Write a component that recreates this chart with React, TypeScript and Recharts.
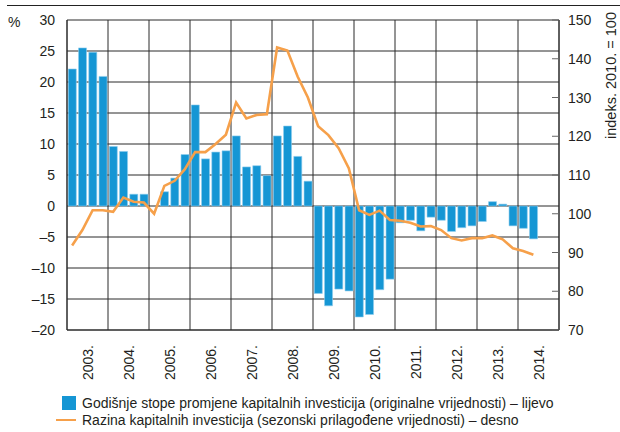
import React from 'react';
import {
  ComposedChart,
  Bar,
  Line,
  XAxis,
  YAxis,
  CartesianGrid
} from 'recharts';

const years = ['2003.', '2004.', '2005.', '2006.', '2007.', '2008.', '2009.', '2010.', '2011.', '2012.', '2013.', '2014.'];
const quarterNames = ['Q1', 'Q2', 'Q3', 'Q4'];

// annual rate of change of capital investment, % (left axis)
const growth: (number | null)[] = [
  22.1, 25.5, 24.8, 20.9,
  9.6, 8.8, 1.9, 1.9,
  0, 2.3, 4.5, 8.3,
  16.3, 7.6, 8.7, 8.9,
  11.3, 6.3, 6.5, 4.9,
  11.3, 12.9, 8.0, 4.0,
  -14.1, -16.1, -13.4, -13.7,
  -17.9, -17.5, -13.5, -11.8,
  -2.7, -2.3, -4.0, -1.8,
  -2.3, -4.1, -3.5, -3.2,
  -2.5, 0.7, 0.3, -3.2,
  -3.6, -5.3, null, null
];

// seasonally adjusted level, index 2010 = 100 (right axis)
const level: (number | null)[] = [
  91.8, 95.8, 100.9, 100.9,
  100.5, 104.2, 103.1, 102.9,
  100.0, 107.2, 108.5, 111.5,
  115.9, 115.9, 118.0, 120.4,
  128.7, 124.6, 125.5, 125.7,
  142.9, 142.1, 135.4, 130.0,
  122.6, 120.3, 116.9, 111.7,
  100.9, 99.7, 100.8, 98.4,
  98.2, 97.7, 96.7, 96.8,
  95.8, 93.7, 93.1, 93.7,
  93.7, 94.4, 93.4, 91.1,
  90.4, 89.4, null, null
];

const leftTicks = [-20, -15, -10, -5, 0, 5, 10, 15, 20, 25, 30];
const rightTicks = [70, 80, 90, 100, 110, 120, 130, 140, 150];

const barLabel = 'Godišnje stope promjene kapitalnih investicija (originalne vrijednosti) – lijevo';
const lineLabel = 'Razina kapitalnih investicija (sezonski prilagođene vrijednosti) – desno';

const categories = years.flatMap((y) => quarterNames.map((q) => `${y} ${q}`));
const data = categories.map((q, i) => ({ q, growth: growth[i], level: level[i] }));
// year labels sit between Q2 and Q3
const yearTicks = years.map((y) => `${y} Q3`);

const FONT = '"Liberation Sans", Arial, sans-serif';
const TEXT = '#231f20';
const GRID = '#2b2b2b';
const BLUE = '#1596d4';
const ORANGE = '#f6a04a';

const W = 620;
const H = 432;
const LEFT_W = 67;
const RIGHT_W = 61;
const PLOT_W = W - LEFT_W - RIGHT_W;
const BAND = PLOT_W / categories.length;

const YearTick = (props: any) => {
  const { x, y, payload } = props;
  const cx = x - BAND / 2;
  const ty = y + 13;
  return (
    <text
      x={cx}
      y={ty}
      transform={`rotate(-90, ${cx}, ${ty})`}
      textAnchor="end"
      dy="0.36em"
      fill={TEXT}
      fontSize={14}
      fontFamily={FONT}
    >
      {String(payload.value).split(' ')[0]}
    </text>
  );
};

const LeftTick = (props: any) => {
  const { x, y, payload } = props;
  return (
    <text x={x} y={y} dy="0.36em" textAnchor="end" fill={TEXT} fontSize={14} fontFamily={FONT}>
      {payload.value < 0 ? `–${Math.abs(payload.value)}` : payload.value}
    </text>
  );
};

const RightTick = (props: any) => {
  const { x, y, payload } = props;
  const axisX = x - 9;
  return (
    <g>
      <line x1={axisX - 7} x2={axisX} y1={y} y2={y} stroke="#666" strokeWidth={1} />
      <text x={x} y={y} dy="0.36em" textAnchor="start" fill={TEXT} fontSize={14} fontFamily={FONT}>
        {payload.value}
      </text>
    </g>
  );
};

const App: React.FC = () => {
  return (
    <div style={{ position: 'absolute', left: 0, top: 0, width: W, height: H, background: '#fff', fontFamily: FONT, color: TEXT }}>
      <div style={{ position: 'absolute', left: 7, top: 5, width: W - 7, height: 1, background: '#222' }} />
      <div style={{ position: 'absolute', left: 8, top: 14, fontSize: 14 }}>%</div>
      <div
        style={{
          position: 'absolute',
          left: 603,
          top: 12,
          fontSize: 14.5,
          whiteSpace: 'nowrap',
          transformOrigin: '0 0',
          transform: 'rotate(-90deg) translateX(-100%)'
        }}
      >
        indeks. 2010. = 100
      </div>
      <ComposedChart
        width={W}
        height={H}
        data={data}
        margin={{ top: 20, right: 0, bottom: 0, left: 0 }}
        barCategoryGap="12.5%"
      >
        <CartesianGrid
          stroke={GRID}
          strokeWidth={1}
          yAxisId="left"
          horizontalValues={leftTicks}
          verticalCoordinatesGenerator={({ offset }: any) =>
            years.map((_, i) => offset.left + (offset.width / years.length) * i).concat(offset.left + offset.width)
          }
        />
        <XAxis
          dataKey="q"
          ticks={yearTicks}
          interval={0}
          height={102}
          tickSize={0}
          axisLine={{ stroke: GRID }}
          tick={<YearTick />}
        />
        <YAxis
          yAxisId="left"
          orientation="left"
          width={LEFT_W}
          domain={[-20, 30]}
          ticks={leftTicks}
          interval={0}
          tickSize={0}
          tickMargin={12}
          axisLine={{ stroke: GRID }}
          tick={<LeftTick />}
        />
        <YAxis
          yAxisId="right"
          orientation="right"
          width={RIGHT_W}
          domain={[70, 150]}
          ticks={rightTicks}
          interval={0}
          tickSize={0}
          tickMargin={9}
          axisLine={{ stroke: GRID }}
          tick={<RightTick />}
        />
        <Bar yAxisId="left" dataKey="growth" fill={BLUE} stroke="#8fcdee" strokeWidth={0.6} isAnimationActive={false} />
        <Line
          yAxisId="right"
          dataKey="level"
          type="linear"
          stroke={ORANGE}
          strokeWidth={2.6}
          dot={false}
          activeDot={false}
          connectNulls={false}
          isAnimationActive={false}
        />
      </ComposedChart>
      <div style={{ position: 'absolute', left: 62, top: 395, fontSize: 14, lineHeight: '16px', whiteSpace: 'nowrap' }}>
        <div style={{ display: 'flex', alignItems: 'center', height: 16 }}>
          <span style={{ display: 'inline-block', width: 14, height: 14, background: BLUE, marginRight: 6 }} />
          {barLabel}
        </div>
        <div style={{ display: 'flex', alignItems: 'center', height: 16, marginTop: 1 }}>
          <span style={{ display: 'inline-block', width: 20, height: 2.5, background: ORANGE, marginLeft: -6, marginRight: 6 }} />
          {lineLabel}
        </div>
      </div>
    </div>
  );
};

export default App;
